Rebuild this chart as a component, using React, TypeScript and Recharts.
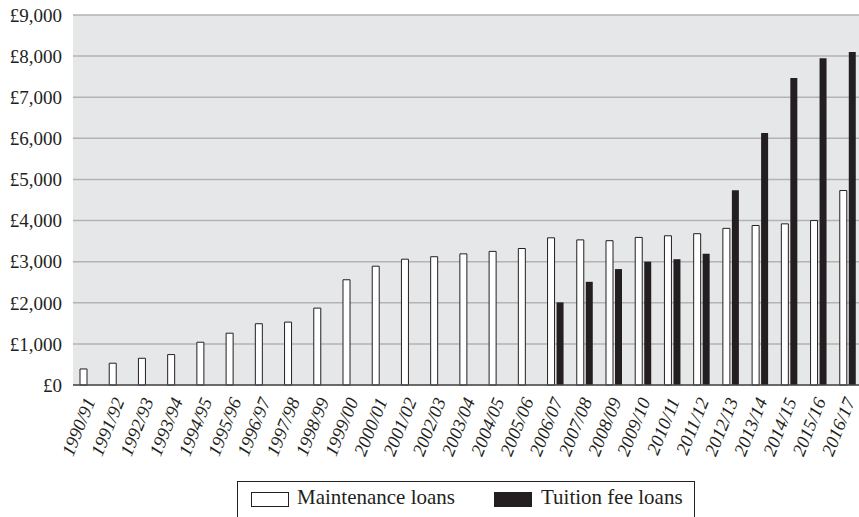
import React from 'react';
import { BarChart, Bar, XAxis, YAxis, CartesianGrid, Legend } from 'recharts';

const years = [
  '1990/91', '1991/92', '1992/93', '1993/94', '1994/95', '1995/96', '1996/97',
  '1997/98', '1998/99', '1999/00', '2000/01', '2001/02', '2002/03', '2003/04',
  '2004/05', '2005/06', '2006/07', '2007/08', '2008/09', '2009/10', '2010/11',
  '2011/12', '2012/13', '2013/14', '2014/15', '2015/16', '2016/17',
];

const maintenanceLoans = [
  390, 530, 650, 740, 1040, 1260, 1490, 1530, 1870, 2560, 2890, 3060, 3120, 3190,
  3250, 3320, 3580, 3530, 3510, 3590, 3630, 3680, 3810, 3880, 3920, 4000, 4730,
];

const tuitionFeeLoans = [
  null, null, null, null, null, null, null, null, null, null, null, null, null, null,
  null, null, 2010, 2510, 2820, 3000, 3060, 3190, 4740, 6130, 7470, 7950, 8100,
];

const yTicks = [0, 1000, 2000, 3000, 4000, 5000, 6000, 7000, 8000, 9000];

const data = years.map((year, i) => ({
  year,
  maintenance: maintenanceLoans[i],
  tuition: tuitionFeeLoans[i],
}));

const FONT = '"Liberation Serif", "Times New Roman", serif';
const INK = '#231f20';

const formatPounds = (v: number) => '£' + v.toLocaleString('en-GB');

// rotated, italic year labels
const YearTick = (props: any) => {
  const { x, y, payload } = props;
  return (
    <g transform={`translate(${x + 8},${y + 8})`}>
      <text
        x={0}
        y={0}
        textAnchor="end"
        transform="rotate(-68)"
        fontFamily={FONT}
        fontStyle="italic"
        fontSize={18.5}
        fill={INK}
      >
        {payload.value}
      </text>
    </g>
  );
};

const LegendBox = () => (
  <div
    style={{
      border: `1px solid ${INK}`,
      height: 60,
      boxSizing: 'border-box',
      fontFamily: FONT,
      fontSize: 21,
      color: INK,
      position: 'relative',
    }}
  >
    <div style={{ position: 'absolute', left: 13, top: 10, width: 36, height: 13, border: `1px solid ${INK}`, background: '#fff' }} />
    <span style={{ position: 'absolute', left: 59, top: 3, whiteSpace: 'nowrap' }}>Maintenance loans</span>
    <div style={{ position: 'absolute', left: 256, top: 10, width: 38, height: 15, background: INK }} />
    <span style={{ position: 'absolute', left: 303, top: 3, whiteSpace: 'nowrap' }}>Tuition fee loans</span>
  </div>
);

export default function App() {
  return (
    <div style={{ position: 'absolute', left: 0, top: 0, width: 859, height: 517, overflow: 'hidden', background: '#fff' }}>
      <BarChart
        width={862}
        height={530}
        data={data}
        margin={{ top: 15, right: 0, left: 0, bottom: 0 }}
        barSize={7}
        barGap={2}
      >
        <CartesianGrid vertical={false} fill="#e6e7e8" stroke="#b3b3b3" strokeWidth={1.5} />
        <XAxis
          dataKey="year"
          height={145}
          interval={0}
          tickLine={false}
          axisLine={{ stroke: '#4d4d4d', strokeWidth: 1.5 }}
          tick={<YearTick />}
        />
        <YAxis
          width={73}
          domain={[0, 9000]}
          ticks={yTicks}
          tickFormatter={formatPounds}
          axisLine={false}
          tickLine={false}
          tickMargin={5}
          tick={{ fontFamily: FONT, fontSize: 19, fill: INK }}
        />
        <Legend
          layout="horizontal"
          verticalAlign="middle"
          align="center"
          wrapperStyle={{ left: 237, top: 481, width: 458, height: 60 }}
          content={() => <LegendBox />}
        />
        <Bar
          dataKey="maintenance"
          name="Maintenance loans"
          fill="#ffffff"
          stroke={INK}
          strokeWidth={1}
          isAnimationActive={false}
        />
        <Bar
          dataKey="tuition"
          name="Tuition fee loans"
          fill={INK}
          isAnimationActive={false}
        />
      </BarChart>
    </div>
  );
}
